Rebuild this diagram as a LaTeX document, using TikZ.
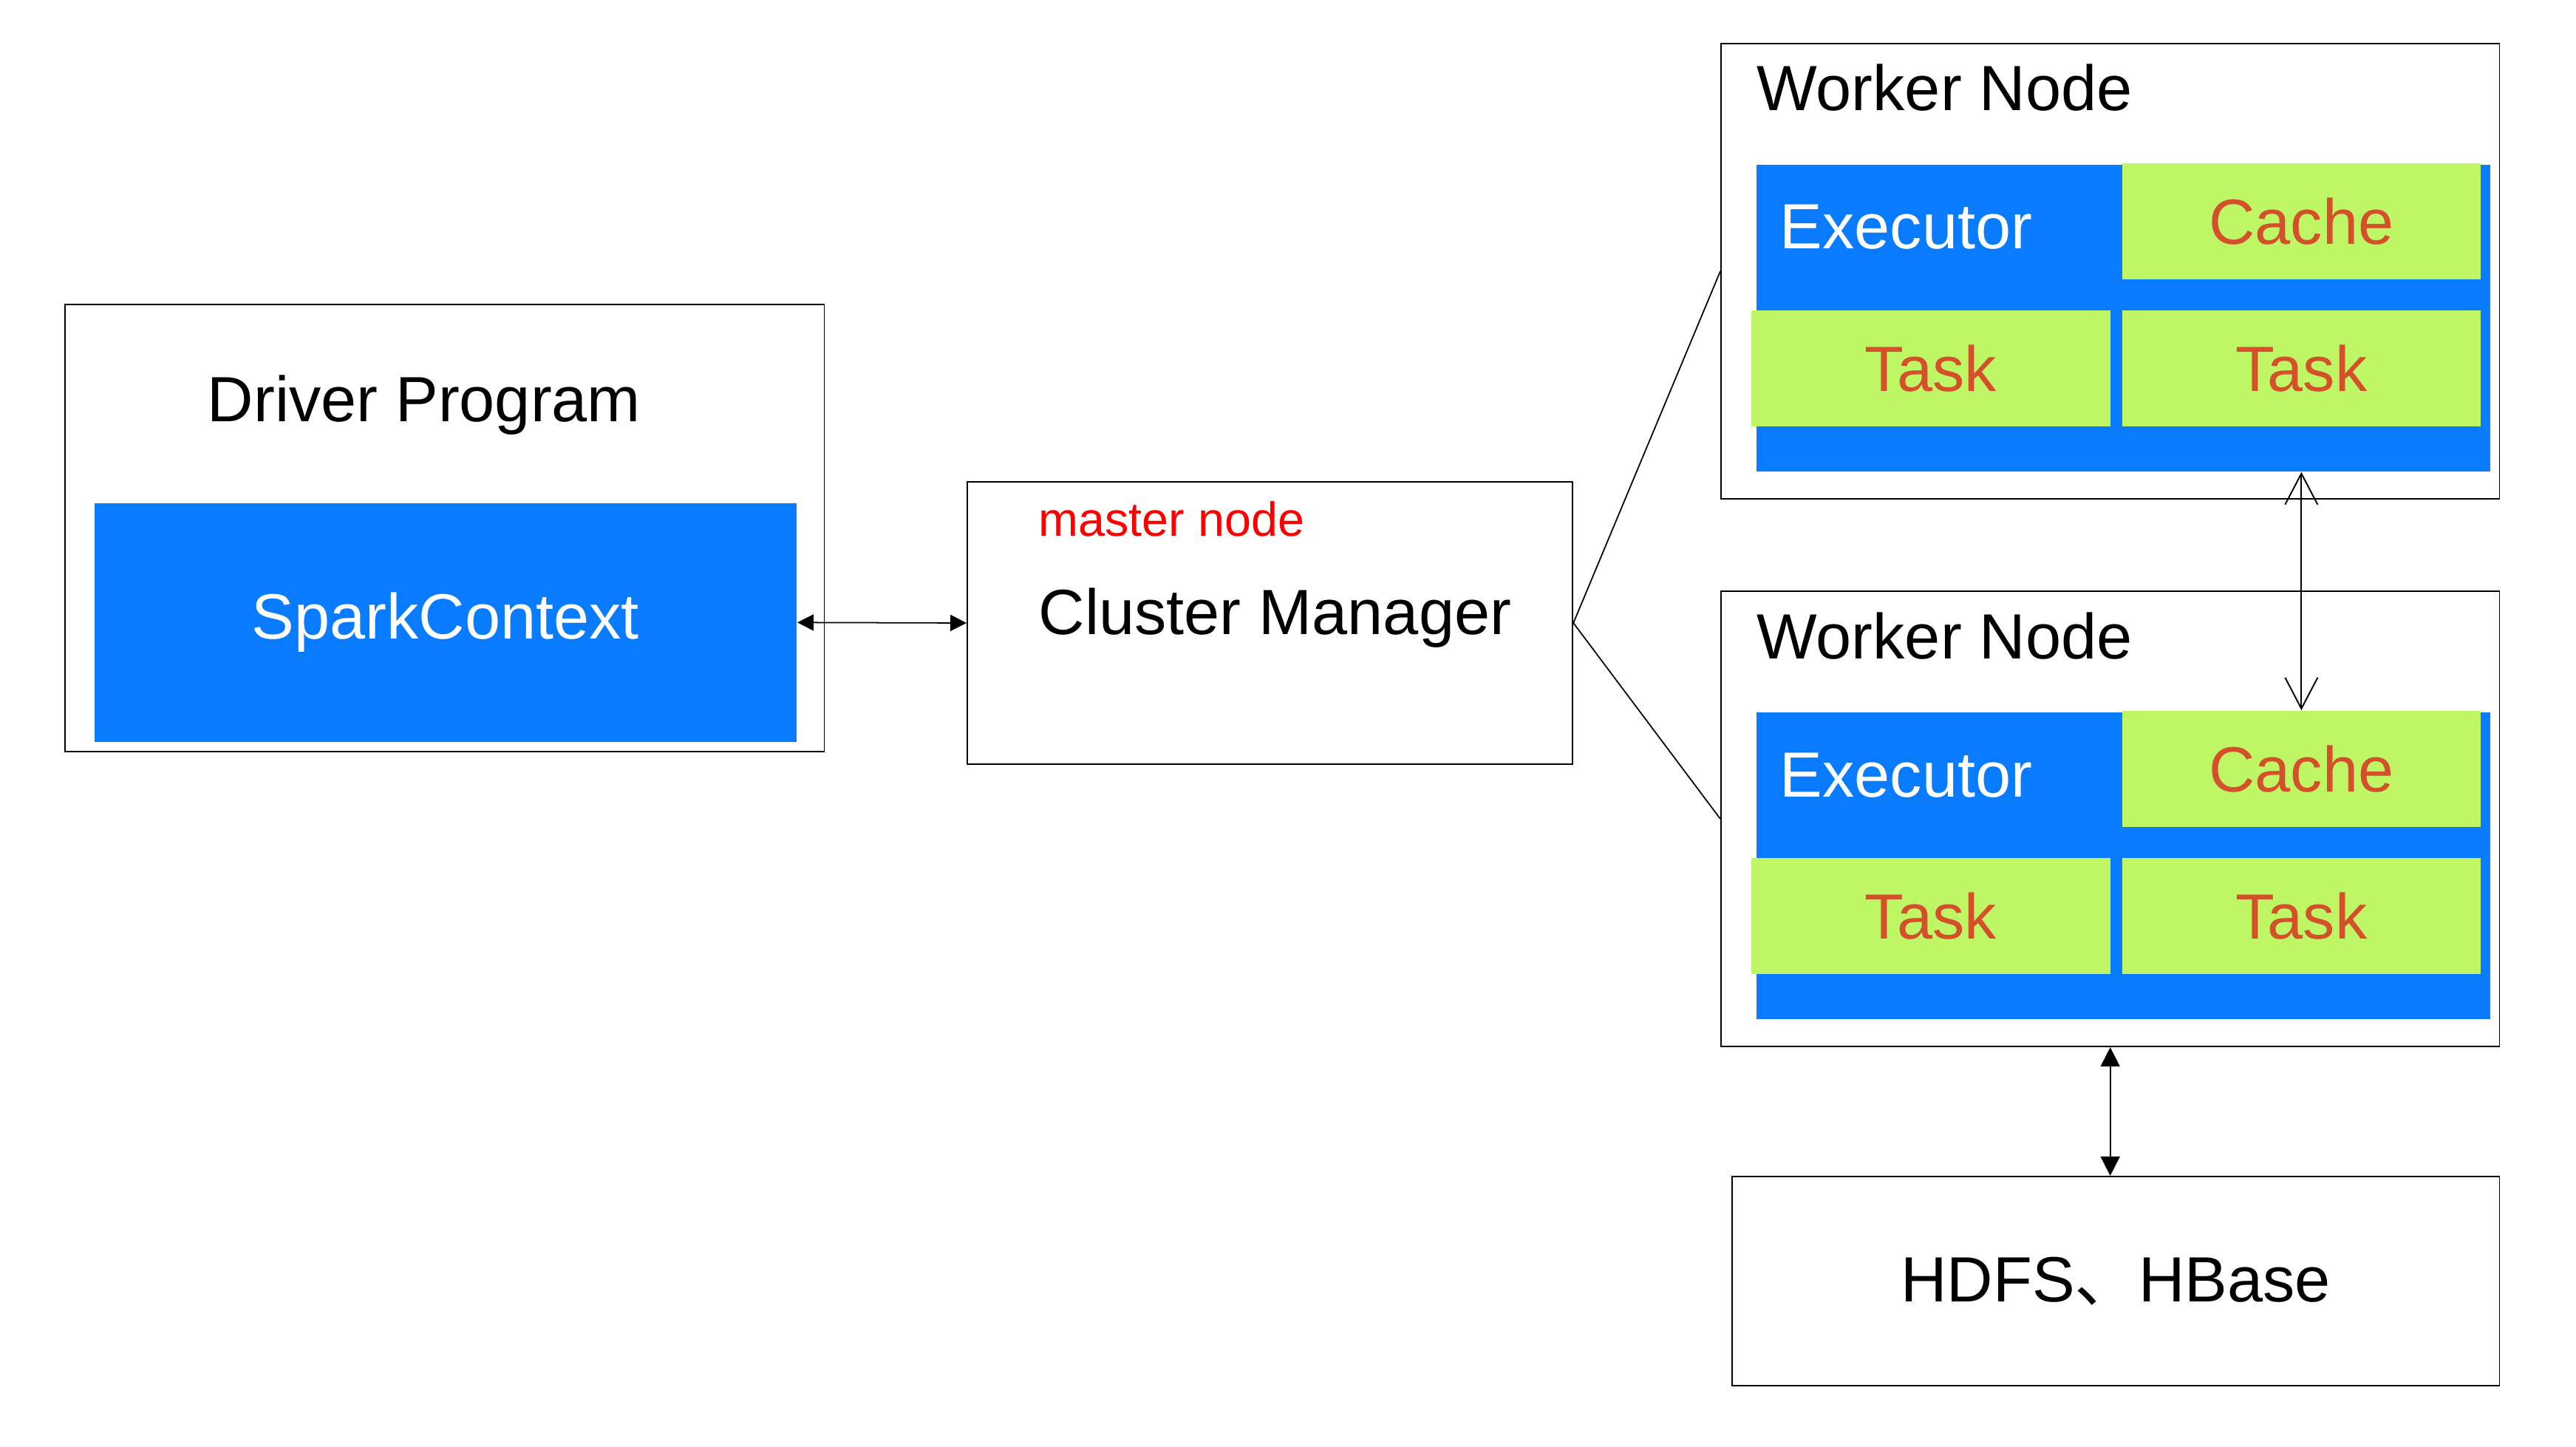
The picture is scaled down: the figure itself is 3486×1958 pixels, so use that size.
\documentclass[tikz,border=0pt]{standalone}
\usepackage{fontspec}
\setmainfont{Liberation Sans}
\newfontfamily\cjk{Noto Sans CJK SC}
\usetikzlibrary{arrows.meta}

\definecolor{execblue}{HTML}{087BFF}
\definecolor{slotgreen}{HTML}{BEF665}
\definecolor{slottext}{HTML}{D4502B}
\definecolor{masterred}{HTML}{FF0000}
\newcommand{\bigtext}{\fontsize{24.6}{29}\selectfont}
\newcommand{\smalltext}{\fontsize{18.4}{22}\selectfont}

\tikzset{
  box/.style={draw=black, line width=0.5pt, inner sep=0pt, anchor=north west},
  execbox/.style={fill=execblue, inner sep=0pt, anchor=north west},
  slotbox/.style={fill=slotgreen, text=slottext, inner sep=0pt, anchor=north west,
    minimum width=4.85cm, minimum height=1.57cm, font=\bigtext},
  label text/.style={inner sep=0pt, font=\bigtext},
  link/.style={line width=0.5pt},
  fat tip/.tip={Triangle[length=0.22cm,width=0.22cm]},
  big tip/.tip={Triangle[length=0.26cm,width=0.26cm]},
  barb tip/.tip={Straight Barb[length=0.42cm,width=0.44cm]}
}

\begin{document}
\begin{tikzpicture}[x=0.01cm,y=-0.01cm]
\useasboundingbox (0,0) rectangle (3486,1958);

% driver side
\node[box, minimum width=10.27cm, minimum height=6.05cm] (driver) at (87,411) {};
\node[label text, anchor=base] (drivertext) at (574,571) {Driver Program};
\node[execbox, minimum width=9.50cm, minimum height=3.23cm, text=white, font=\bigtext] (spark) at (127,680) {SparkContext};

% cluster manager
\node[box, minimum width=8.19cm, minimum height=3.82cm] (cluster) at (1308,651) {};
\node[inner sep=0pt, anchor=base west, text=masterred, font=\smalltext] (master) at (1405,726) {master node};
\node[label text, anchor=base west] (clustertext) at (1405,858) {Cluster Manager};

% first worker
\node[box, minimum width=10.53cm, minimum height=6.16cm] (worker1) at (2328,58) {};
\node[label text, anchor=base west] (workertext1) at (2377,150) {Worker Node};
\node[execbox, minimum width=9.93cm, minimum height=4.15cm] (exec1) at (2376,222) {};
\node[label text, anchor=base west, text=white] (exectext1) at (2408,337) {Executor};
\node[slotbox] (cache1) at (2871,220) {Cache};
\node[slotbox, minimum width=4.86cm] (taskA1) at (2369,419) {Task};
\node[slotbox] (taskB1) at (2871,419) {Task};

% second worker
\node[box, minimum width=10.53cm, minimum height=6.16cm] (worker2) at (2328,799) {};
\node[label text, anchor=base west] (workertext2) at (2377,891) {Worker Node};
\node[execbox, minimum width=9.93cm, minimum height=4.15cm] (exec2) at (2376,963) {};
\node[label text, anchor=base west, text=white] (exectext2) at (2408,1078) {Executor};
\node[slotbox] (cache2) at (2871,961) {Cache};
\node[slotbox, minimum width=4.86cm] (taskA2) at (2369,1160) {Task};
\node[slotbox] (taskB2) at (2871,1160) {Task};

% storage
\node[box, minimum width=10.38cm, minimum height=2.83cm, font=\bigtext] (hdfs) at (2343,1591) {HDFS{\cjk 、}HBase};

% connectors
\draw[link, {fat tip}-{fat tip}] (spark.east) -- (cluster.west);
\draw[link] (cluster.east) -- (worker1.west);
\draw[link] (cluster.east) -- (worker2.west);
\draw[line width=0.55pt, {barb tip}-{barb tip}] (cache1.south |- exec1.south) -- (cache2.north);
\draw[link, {big tip}-{big tip}] (worker2.south) -- (worker2.south |- hdfs.north);
\end{tikzpicture}
\end{document}
